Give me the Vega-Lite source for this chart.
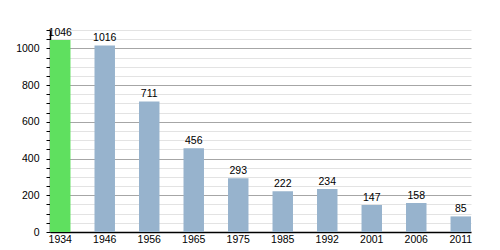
{
  "$schema": "https://vega.github.io/schema/vega-lite/v6.json",
  "autosize": {"type": "none"},
  "padding": {"left": 50, "top": 30, "right": 29, "bottom": 18},
  "width": 421,
  "height": 202,
  "background": "white",
  "config": {
    "view": {"stroke": null},
    "font": "Liberation Sans",
    "axis": {"labelFont": "Liberation Sans", "labelFontSize": 10.5, "labelColor": "#000000", "domainColor": "#000000", "domainWidth": 1.5}
  },
  "data": {
    "values": [
      {"year": "1934", "pop": 1046},
      {"year": "1946", "pop": 1016},
      {"year": "1956", "pop": 711},
      {"year": "1965", "pop": 456},
      {"year": "1975", "pop": 293},
      {"year": "1985", "pop": 222},
      {"year": "1992", "pop": 234},
      {"year": "2001", "pop": 147},
      {"year": "2006", "pop": 158},
      {"year": "2011", "pop": 85}
    ]
  },
  "encoding": {
    "x": {
      "field": "year", "type": "nominal", "sort": null,
      "scale": {"paddingInner": 0.54, "paddingOuter": 0},
      "axis": {"title": null, "labelAngle": 0, "ticks": false, "labelPadding": 2, "grid": false}
    },
    "y": {
      "field": "pop", "type": "quantitative",
      "scale": {"domain": [0, 1100], "nice": false},
      "axis": {
        "title": null,
        "values": [0, 50, 100, 150, 200, 250, 300, 350, 400, 450, 500, 550, 600, 650, 700, 750, 800, 850, 900, 950, 1000, 1050, 1100],
        "labelExpr": "datum.value % 200 === 0 ? datum.label : ''",
        "format": "d",
        "grid": true,
        "gridColor": {"condition": {"test": "datum.value % 200 === 0 && datum.value > 0", "value": "#a6a6a6"}, "value": "#e3e3e3"},
        "gridWidth": 1,
        "tickColor": "#000000",
        "tickSize": 4,
        "labelPadding": 7,
        "labelBound": false
      }
    }
  },
  "layer": [
    {
      "mark": {"type": "bar"},
      "encoding": {
        "color": {
          "condition": {"test": "datum.year === '1934'", "value": "#5fe05f"},
          "value": "#97b3cd"
        }
      }
    },
    {
      "mark": {"type": "text", "baseline": "bottom", "dy": -2, "fontSize": 10.5, "color": "#000000", "font": "Liberation Sans"},
      "encoding": {"text": {"field": "pop", "type": "quantitative"}}
    }
  ]
}
